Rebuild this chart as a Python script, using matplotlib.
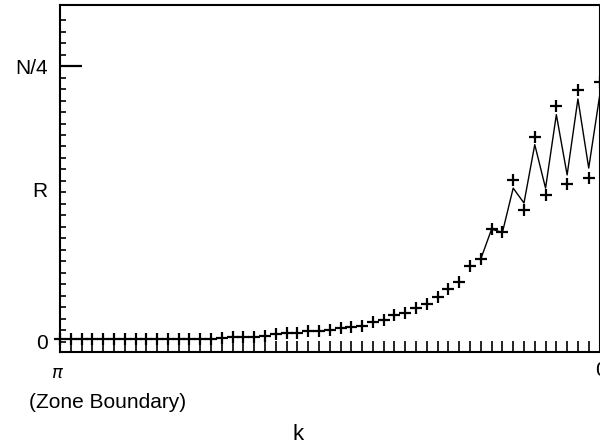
import numpy as np
import matplotlib
matplotlib.use("Agg")
import matplotlib.pyplot as plt

plt.rcParams['font.family'] = ['Liberation Sans', 'DejaVu Sans']

# Wave number index from the zone boundary (k = pi) to the zone centre (k = 0)
n_points = 51
k_values = np.linspace(np.pi, 0.0, n_points)

# Measured occupation, in units of N/4
occupation = [
    0.008, 0.008, 0.008, 0.008, 0.008, 0.008, 0.008, 0.008, 0.008, 0.008,
    0.008, 0.008, 0.009, 0.010, 0.011, 0.012, 0.015, 0.015, 0.017, 0.020,
    0.026, 0.030, 0.032, 0.037, 0.037, 0.042, 0.048, 0.054, 0.056, 0.070,
    0.078, 0.095, 0.103, 0.121, 0.136, 0.161, 0.190, 0.217, 0.275, 0.299,
    0.408, 0.396, 0.585, 0.476, 0.743, 0.533, 0.856, 0.573, 0.912, 0.593,
    0.941,
]

# Smooth curve near the zone centre (last 12 k points)
curve_start = 39
curve = [0.300, 0.408, 0.396, 0.557, 0.503, 0.715, 0.557, 0.824, 0.605,
         0.881, 0.630, 0.889]

R_level = 0.551
y_tick_values = [0.0, R_level, 1.0]
y_tick_labels = ['0', 'R', 'N/4']

W, H = 600, 447
fig = plt.figure(figsize=(W / 100, H / 100), dpi=100)
left, right, bottom, top = 60, 599.5, 352, 5
ax = fig.add_axes([left / W, 1 - bottom / H, (right - left) / W, (bottom - top) / H])

ax.plot(k_values[curve_start:], curve, color='black', lw=1.0, zorder=2)
ax.plot(k_values, occupation, linestyle='none', marker='+', ms=8, mew=1.6,
        color='black', clip_on=False, zorder=3)

ax.set_xlim(np.pi, 0.0)
ax.set_ylim(-0.038, 1.222)

for s in ax.spines.values():
    s.set_linewidth(1.5)
    s.set_color('black')

# x ticks: one at every sampled k, pointing up from the bottom axis
ax.set_xticks(k_values)
ax.set_xticklabels([])
ax.tick_params(axis='x', direction='in', length=8, width=1.2, top=False, bottom=True)

# y ticks: fine inward ticks, long one at N/4
ax.yaxis.remove_overlapping_locs = False
ax.set_yticks(y_tick_values)
ax.set_yticklabels(y_tick_labels, fontsize=15)
ax.set_yticks(np.arange(0, 29) / 24.0, minor=True)
ax.tick_params(axis='y', which='major', direction='in', length=0, pad=9)
ax.tick_params(axis='y', which='minor', direction='in', length=4, width=1.2)
ax.tick_params(axis='y', right=False)
for tick, lv in zip(ax.yaxis.get_major_ticks(), y_tick_values):
    if lv == 1.0:
        tick.tick1line.set_markersize(16)
        tick.tick1line.set_markeredgewidth(1.6)

# Axis end labels
fig.text(58 / W, 1 - 373 / H, r'$\pi$', fontsize=13, ha='center', va='center')
fig.text(107.5 / W, 1 - 403 / H, '(Zone Boundary)', fontsize=15, ha='center', va='center')
fig.text(595 / W, 1 - 370 / H, '0', fontsize=15, ha='left', va='center')
fig.text(298 / W, 1 - 435 / H, 'k', fontsize=16, ha='center', va='center')

fig.savefig('out.png', dpi=100)
